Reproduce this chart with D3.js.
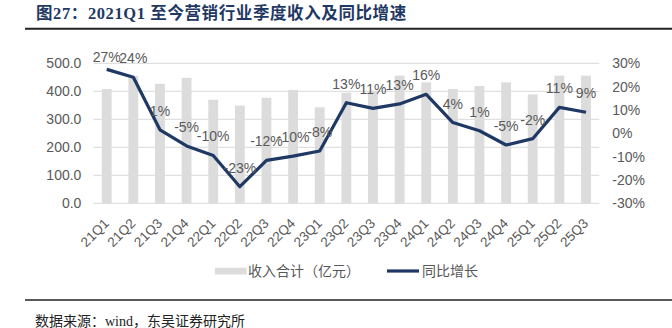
<!DOCTYPE html>
<html><head><meta charset="utf-8">
<script src="https://cdn.jsdelivr.net/npm/d3@7"></script>
<style>
html,body{margin:0;padding:0;background:#fff;}
svg{display:block;}
</style></head>
<body>
<svg id="c" width="672" height="328"></svg>
<script>
const categories = ["21Q1","21Q2","21Q3","21Q4","22Q1","22Q2","22Q3","22Q4","23Q1","23Q2","23Q3","23Q4","24Q1","24Q2","24Q3","24Q4","25Q1","25Q2","25Q3"];
const revenue = [408,455,427,448,370,349,377,405,343,395,402,456,432,408,419,432,389,456,456];
const yoy = [27.4,24.0,1.5,-5.4,-9.5,-22.9,-11.6,-9.8,-7.6,13.1,10.7,12.6,16.7,4.6,1.1,-5.0,-2.3,11.1,9.0];
const yoyLabels = ["27%","24%","1%","-5%","-10%","-23%","-12%","-10%","-8%","13%","11%","13%","16%","4%","1%","-5%","-2%","11%","9%"];
const leftTicks = [0,100,200,300,400,500];
const rightTicks = [-30,-20,-10,0,10,20,30];
const titleText = "图27：2021Q1 至今营销行业季度收入及同比增速";
const sourceText = "数据来源：wind，东吴证券研究所";
const legendNames = ["收入合计（亿元）","同比增长"];

const svg = d3.select("#c");
const L = 93.4, R = 599.3, T = 63.3, B = 203.3;
const x = d3.scaleBand().domain(categories).range([L, R]).paddingInner(0.63).paddingOuter(0.315);
const yL = d3.scaleLinear().domain([0,500]).range([B,T]);
const yR = d3.scaleLinear().domain([-30,30]).range([B,T]);
const gray = "#595959";
const navy = "#1f3864";
const font = "'Liberation Sans', Arial, sans-serif";

// title
svg.append("text").attr("x",36).attr("y",18.5).text(titleText)
  .attr("font-family","'Liberation Serif','Noto Sans CJK SC',serif").attr("font-weight","bold")
  .attr("font-size",16.5).attr("letter-spacing",0.6).attr("fill","#1f3864");
svg.append("line").attr("x1",25).attr("x2",672).attr("y1",28.7).attr("y2",28.7)
  .attr("stroke","#222").attr("stroke-width",2);

// gridlines
svg.append("g").selectAll("line").data(leftTicks).join("line")
  .attr("x1",L).attr("x2",R).attr("y1",d=>yL(d)).attr("y2",d=>yL(d))
  .attr("stroke","#d9d9d9").attr("stroke-width",1);

// left axis
const gl = svg.append("g").attr("transform",`translate(${L-12},0)`)
  .call(d3.axisLeft(yL).tickValues(leftTicks).tickFormat(d3.format(".1f")).tickSize(0).tickPadding(0));
gl.select(".domain").remove();
gl.selectAll("text").attr("font-family",font).attr("font-size",14).attr("fill",gray);

// right axis
const gr = svg.append("g").attr("transform",`translate(${R+13},0)`)
  .call(d3.axisRight(yR).tickValues(rightTicks).tickFormat(d=>d+"%").tickSize(0).tickPadding(0));
gr.select(".domain").remove();
gr.selectAll("text").attr("font-family",font).attr("font-size",14).attr("fill",gray);

// bars
svg.append("g").selectAll("rect").data(categories).join("rect")
  .attr("x",d=>x(d)).attr("width",x.bandwidth())
  .attr("y",(d,i)=>yL(revenue[i])).attr("height",(d,i)=>B-yL(revenue[i]))
  .attr("fill","#dcdcdc");

// x labels
const cx = d => x(d)+x.bandwidth()/2;
svg.append("g").selectAll("text").data(categories).join("text")
  .attr("transform",d=>`translate(${cx(d)+3},${B+21}) rotate(-45)`)
  .attr("text-anchor","end").attr("font-family",font).attr("font-size",13.5).attr("fill",gray)
  .text(d=>d);

// line
const line = d3.line().x((d,i)=>cx(categories[i])).y(d=>yR(d));
svg.append("path").datum(yoy).attr("d",line).attr("fill","none")
  .attr("stroke",navy).attr("stroke-width",3.2).attr("stroke-linejoin","round");

// data labels
svg.append("g").selectAll("text").data(yoy).join("text")
  .attr("x",(d,i)=>cx(categories[i])).attr("y",d=>Math.max(yR(d)-14,61.5))
  .attr("text-anchor","middle").attr("font-family",font).attr("font-size",14).attr("fill",gray)
  .text((d,i)=>yoyLabels[i]);

// legend
const lg = svg.append("g");
lg.append("rect").attr("x",215).attr("y",267.7).attr("width",31.5).attr("height",6.8).attr("fill","#dcdcdc");
lg.append("text").attr("x",248).attr("y",276).text(legendNames[0])
  .attr("font-family","'Noto Sans CJK SC',sans-serif").attr("font-size",14).attr("fill",gray);
lg.append("line").attr("x1",387).attr("x2",419).attr("y1",271).attr("y2",271).attr("stroke",navy).attr("stroke-width",3.2);
lg.append("text").attr("x",422).attr("y",276).text(legendNames[1])
  .attr("font-family","'Noto Sans CJK SC',sans-serif").attr("font-size",14).attr("fill",gray);

// bottom rule and source
svg.append("line").attr("x1",25).attr("x2",672).attr("y1",300).attr("y2",300)
  .attr("stroke","#222").attr("stroke-width",1.5);
svg.append("text").attr("x",35).attr("y",326).text(sourceText)
  .attr("font-family","'Liberation Serif','Noto Sans CJK SC',serif").attr("font-size",14).attr("fill","#222");
</script>
</body></html>
